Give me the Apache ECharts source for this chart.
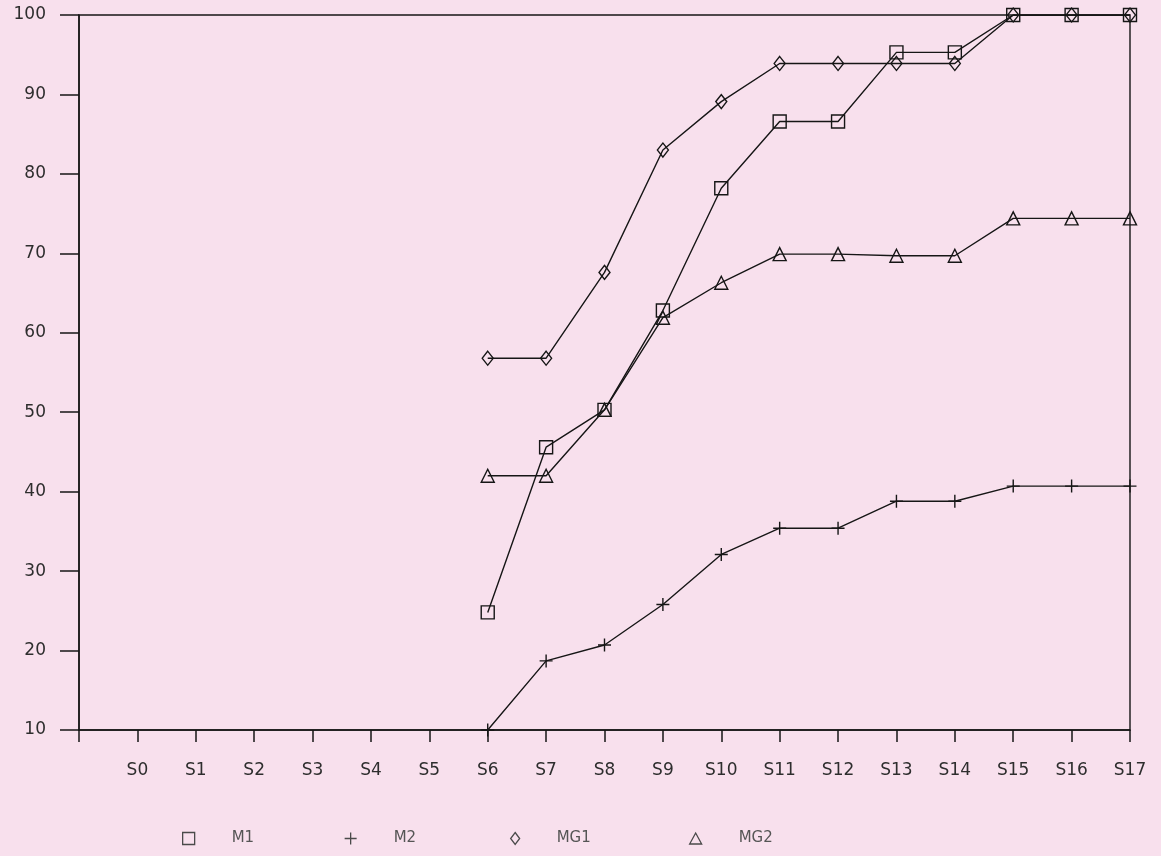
<!DOCTYPE html>
<html>
<head>
<meta charset="utf-8">
<title>M1 / M2 / MG1 / MG2</title>
<script src="https://cdn.jsdelivr.net/npm/echarts@6/dist/echarts.min.js"></script>
<style>
  html, body { margin: 0; padding: 0; background: #f8e0ed; }
  #chart { width: 1161px; height: 856px; }
</style>
</head>
<body>
<div id="chart"></div>
<script>
// Stages along the x axis
const stages = ['S0', 'S1', 'S2', 'S3', 'S4', 'S5', 'S6', 'S7', 'S8',
                'S9', 'S10', 'S11', 'S12', 'S13', 'S14', 'S15', 'S16', 'S17'];

// Cumulative percentages per stage (null = no value yet)
const m1  = [null, null, null, null, null, null, 24.8, 45.6, 50.3, 62.8, 78.2, 86.6, 86.6, 95.3, 95.3, 100, 100, 100];
const m2  = [null, null, null, null, null, null, 10.0, 18.7, 20.7, 25.8, 32.1, 35.4, 35.4, 38.8, 38.8, 40.7, 40.7, 40.7];
const mg1 = [null, null, null, null, null, null, 56.8, 56.8, 67.6, 83.0, 89.1, 93.9, 93.9, 93.9, 93.9, 100, 100, 100];
const mg2 = [null, null, null, null, null, null, 42.0, 42.0, 50.3, 61.9, 66.3, 69.9, 69.9, 69.7, 69.7, 74.4, 74.4, 74.4];

// Y axis range and step
const yMin = 10, yMax = 100, yStep = 10;

const ink = '#161616';
const plusPath = 'path://M6,0V12M0,6H12';

// One blank slot before S0 so the first stage sits one step right of the y axis
const xCats = [''].concat(stages);
const pad = arr => [null].concat(arr);

function lineSeries(name, data, symbol, size) {
  return {
    name: name,
    type: 'line',
    data: pad(data),
    symbol: symbol,
    symbolSize: size,
    showAllSymbol: true,
    connectNulls: false,
    color: ink,
    lineStyle: { color: ink, width: 1.4 },
    itemStyle: { color: 'rgba(0,0,0,0)', borderColor: ink, borderWidth: 1.4 },
    emphasis: { disabled: true },
    z: 3
  };
}

function legendAt(name, icon, left, size) {
  return {
    data: [{ name: name, icon: icon }],
    left: left,
    top: 826,
    itemWidth: size[0],
    itemHeight: size[1],
    itemStyle: { color: 'rgba(0,0,0,0)', borderColor: '#4a4a4a', borderWidth: 1.3 },
    lineStyle: { opacity: 0 },
    textStyle: { color: '#555', fontSize: 15, fontFamily: 'DejaVu Sans', padding: [0, 0, 0, 32] },
    selectedMode: false
  };
}

const chart = echarts.init(document.getElementById('chart'), null, { renderer: 'canvas' });
chart.setOption({
  backgroundColor: '#f8e0ed',
  animation: false,
  grid: {
    left: 79, right: 31, top: 15, bottom: 126,
    show: true, borderColor: ink, borderWidth: 1.4, backgroundColor: 'transparent'
  },
  xAxis: {
    type: 'category',
    data: xCats,
    boundaryGap: false,
    axisLine: { lineStyle: { color: ink, width: 1.5 } },
    axisTick: { show: true, inside: false, length: 12, interval: 0, lineStyle: { color: ink, width: 1.5 } },
    axisLabel: { interval: 0, margin: 32, color: '#2e2e2e', fontSize: 17, fontFamily: 'DejaVu Sans' },
    splitLine: { show: false }
  },
  yAxis: {
    type: 'value',
    min: yMin, max: yMax, interval: yStep,
    axisLine: { show: true, lineStyle: { color: ink, width: 1.5 } },
    axisTick: { show: true, inside: false, length: 19, lineStyle: { color: ink, width: 1.5 } },
    axisLabel: { margin: 33, color: '#2e2e2e', fontSize: 17, fontFamily: 'DejaVu Sans' },
    splitLine: { show: false }
  },
  legend: [
    legendAt('M1', 'rect', 177, [12, 12]),
    legendAt('M2', plusPath, 339, [12, 12]),
    legendAt('MG1', 'diamond', 505, [9, 12]),
    legendAt('MG2', 'triangle', 684, [12, 11])
  ],
  series: [
    lineSeries('M1', m1, 'rect', 13),
    lineSeries('M2', m2, plusPath, 13),
    lineSeries('MG1', mg1, 'diamond', [11, 14]),
    lineSeries('MG2', mg2, 'triangle', [13, 13])
  ]
});
</script>
</body>
</html>
